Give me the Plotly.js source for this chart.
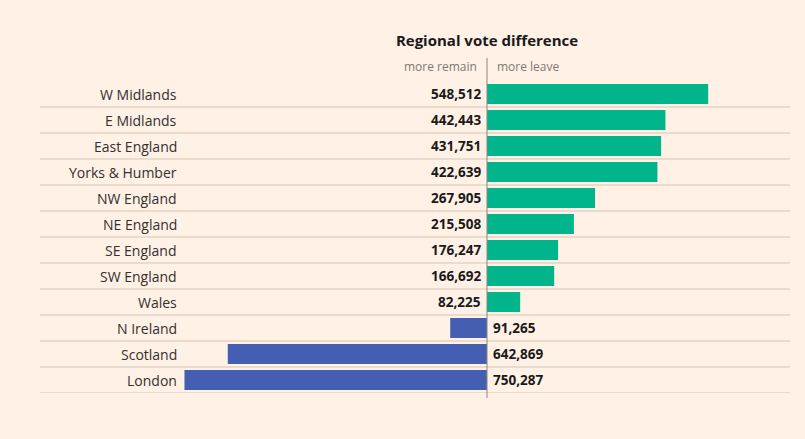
<!DOCTYPE html>
<html>
<head>
<meta charset="utf-8">
<script src="https://cdn.plot.ly/plotly-3.0.1.min.js"></script>
<style>
html,body{margin:0;padding:0;background:#fff1e5;}
#chart{width:805px;height:439px;}
</style>
</head>
<body>
<div id="chart"></div>
<script>
// Data
const regions = ["W Midlands","E Midlands","East England","Yorks & Humber","NW England","NE England","SE England","SW England","Wales","N Ireland","Scotland","London"];
const voteDiff = [548512,442443,431751,422639,267905,215508,176247,166692,82225,91265,642869,750287];
const side = ["leave","leave","leave","leave","leave","leave","leave","leave","leave","remain","remain","remain"];
const chartTitle = "Regional vote difference";
const remainLabel = "more remain";
const leaveLabel = "more leave";

const GREEN = "#00b58b";
const BLUE = "#445fb2";
const FONT = "Open Sans, sans-serif";

const xvals = voteDiff.map((v,i)=> side[i]==="leave" ? v : -v);
const colors = side.map(s => s==="leave" ? GREEN : BLUE);
const fmt = v => v.toLocaleString("en-US");

const annotations = [];
regions.forEach((r,i)=>{
  annotations.push({xref:"paper", yref:"y", x:0.1853, y:r, text:r, showarrow:false,
    xanchor:"right", yanchor:"middle", font:{family:FONT, size:14, color:"#33302e"}});
  const leave = side[i]==="leave";
  annotations.push({xref:"x", yref:"y", x:0, y:r, text:"<b>"+fmt(voteDiff[i])+"</b>", showarrow:false,
    xanchor: leave ? "right":"left", xshift: leave ? -4 : 4, yanchor:"middle",
    font:{family:FONT, size:13.5, color:"#1a1a1a"}});
});
annotations.push({xref:"x", yref:"paper", x:0, y:1.045, text:remainLabel, showarrow:false,
  xanchor:"right", xshift:-8, yanchor:"middle", font:{family:FONT, size:12, color:"#807973"}});
annotations.push({xref:"x", yref:"paper", x:0, y:1.045, text:leaveLabel, showarrow:false,
  xanchor:"left", xshift:8, yanchor:"middle", font:{family:FONT, size:12, color:"#807973"}});

const shapes = [];
for (let i=0;i<regions.length;i++){
  shapes.push({type:"line", xref:"paper", yref:"y", x0:0, x1:1, y0:i+0.5, y1:i+0.5,
    line:{color:"#e2d4c4", width:1.5}, layer:"below"});
}
shapes.push({type:"line", xref:"x", yref:"paper", x0:0, x1:0, y0:-0.016, y1:1.074,
  line:{color:"#8c8580", width:1}});

Plotly.newPlot("chart", [{
  type:"bar", orientation:"h", y:regions, x:xvals,
  marker:{color:colors, line:{width:0}}, hoverinfo:"none"
}], {
  width:805, height:439,
  paper_bgcolor:"#fff1e5", plot_bgcolor:"#fff1e5",
  margin:{l:40, r:15, t:81, b:46},
  bargap:0.23,
  showlegend:false,
  title:{text:"<b>"+chartTitle+"</b>", x:487/805, xanchor:"center", y:1-41/439, yanchor:"middle",
    font:{family:FONT, size:15, color:"#1a1a1a"}},
  xaxis:{range:[-1108560, 751440], showgrid:false, zeroline:false, showticklabels:false, fixedrange:true},
  yaxis:{type:"category", categoryorder:"array", categoryarray:regions, range:[11.5,-0.5],
    showgrid:false, zeroline:false, showticklabels:false, fixedrange:true},
  annotations:annotations, shapes:shapes
}, {displayModeBar:false, staticPlot:true});
</script>
</body>
</html>
